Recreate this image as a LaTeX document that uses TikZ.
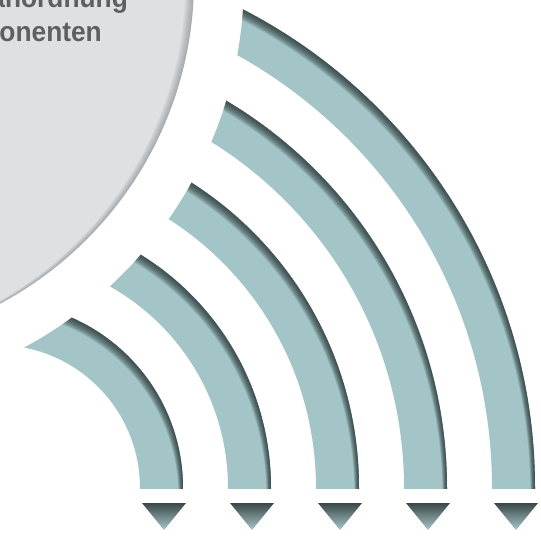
\documentclass[tikz,border=0pt]{standalone}
\usepackage{fontspec}
\setmainfont{Liberation Sans}
\usetikzlibrary{positioning}

\definecolor{disc}{HTML}{DDE1E4}
\definecolor{discshade}{HTML}{6E7377}
\definecolor{band}{HTML}{A3C5C7}
\definecolor{bandshade}{HTML}{243031}
\definecolor{arrowtop}{HTML}{3A4748}
\definecolor{txt}{HTML}{5E5F61}

\tikzset{
  label/.style={anchor=base east,inner sep=0pt,text=txt,xscale=0.94,transform shape,
    font=\bfseries\fontsize{28}{32}\selectfont}
}

\begin{document}
\begin{tikzpicture}[x=1pt,y=-1pt]
      \useasboundingbox (0,0) rectangle (541,540);
      \clip (0,0) rectangle (541,540);

      % grey disc with a soft rim on the right
      \fill[disc] (-173,-20) circle (367);
      \begin{scope}
        \clip (-173,-20) circle (367);
        \foreach \k in {1,...,8}
          \fill[discshade,opacity=0.07,even odd rule]
            (-600,-600) rectangle (700,700) ({-173-\k*1.1},{-20+\k*0.25}) circle (367);
      \end{scope}
      \node[label] (line1) at (128,7.5) {anordnung};
      \node[label] (line2) at (102,41.5) {onenten};

      % five bands, each ending in a small arrow head
      \foreach \r in {143,231,319,407,495} {
        \begin{scope}[even odd rule]
          \clip (-3,-100) rectangle (600,488);
          \clip (-173,-20) circle (417) (-600,-600) rectangle (700,700);
          \clip (-3,488) circle ({\r+43}) (-3,488) circle (\r);
          \fill[band] (-600,-600) rectangle (700,700);
          \foreach \k in {1,...,8}
            \fill[bandshade,opacity=0.16]
              (-600,-600) rectangle (700,700) ({-3-\k*0.55},{488+\k*1.1}) circle ({\r+43});
        \end{scope}
        \shade[top color=arrowtop,bottom color=band!95!white]
          (\r-1,503) -- (\r+43,503) -- (\r+21,530) -- cycle;
      }
    \end{tikzpicture}
\end{document}
